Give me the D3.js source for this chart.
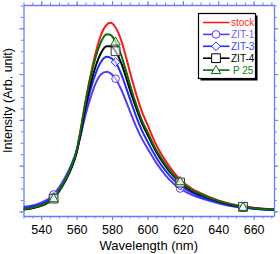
<!DOCTYPE html>
<html>
<head>
<meta charset="utf-8">
<script src="https://cdn.jsdelivr.net/npm/d3@7"></script>
<style>
  body { margin: 0; background: #fff; }
  svg { display: block; font-family: Arial, "Liberation Sans", sans-serif; }
</style>
</head>
<body>
<svg id="chart"></svg>
<script>
// data
const wavelengths = [530, 535, 540, 545, 547, 550, 554, 557, 560, 562, 565, 568, 571, 574, 577, 579, 582, 585, 588, 591, 594, 597, 600, 605, 610, 615, 618.5, 625, 630, 640, 650, 654, 660, 672];
const marker_wavelengths = [547, 582, 618.5, 654];

const stock = [0.05, 0.08, 0.13, 0.23, 0.29, 0.45, 0.72, 0.97, 1.32, 1.72, 2.40, 3.00, 3.50, 3.88, 4.08, 4.12, 4.02, 3.76, 3.36, 2.92, 2.52, 2.17, 1.90, 1.45, 1.12, 0.85, 0.70, 0.50, 0.40, 0.24, 0.14, 0.11, 0.08, 0.04];
const zit1  = [0.10, 0.13, 0.19, 0.30, 0.37, 0.52, 0.78, 1.02, 1.33, 1.62, 2.10, 2.50, 2.82, 3.00, 3.05, 3.02, 2.90, 2.68, 2.40, 2.10, 1.82, 1.58, 1.38, 1.06, 0.80, 0.60, 0.50, 0.36, 0.29, 0.18, 0.10, 0.08, 0.06, 0.03];
const zit3  = [0.08, 0.11, 0.16, 0.26, 0.31, 0.46, 0.72, 0.97, 1.30, 1.63, 2.20, 2.68, 3.04, 3.28, 3.38, 3.36, 3.26, 3.02, 2.70, 2.36, 2.04, 1.76, 1.53, 1.18, 0.90, 0.68, 0.57, 0.41, 0.32, 0.20, 0.11, 0.09, 0.06, 0.03];
const zit4  = [0.04, 0.07, 0.12, 0.22, 0.28, 0.43, 0.69, 0.94, 1.28, 1.65, 2.28, 2.80, 3.20, 3.48, 3.61, 3.61, 3.50, 3.26, 2.92, 2.55, 2.22, 1.92, 1.68, 1.30, 1.00, 0.76, 0.63, 0.45, 0.36, 0.22, 0.12, 0.10, 0.07, 0.04];
const p25   = [0.05, 0.08, 0.13, 0.23, 0.29, 0.45, 0.72, 0.98, 1.33, 1.72, 2.38, 2.95, 3.40, 3.72, 3.87, 3.86, 3.71, 3.44, 3.06, 2.66, 2.30, 1.98, 1.74, 1.34, 1.04, 0.79, 0.66, 0.47, 0.38, 0.23, 0.13, 0.10, 0.07, 0.04];

const series_names = ['stock', 'ZIT-1', 'ZIT-3', 'ZIT-4', 'P 25'];
const x_ticks = [540, 560, 580, 600, 620, 640, 660];

const series = [
    { name: series_names[0], values: stock, color: '#ff1a1a', text: '#ff2a2a', marker: null },
    { name: series_names[1], values: zit1,  color: '#5a3cf0', text: '#7b5cff', marker: 'circle' },
    { name: series_names[2], values: zit3,  color: '#1e2cff', text: '#3344ff', marker: 'diamond' },
    { name: series_names[3], values: zit4,  color: '#000000', text: '#000000', marker: 'square' },
    { name: series_names[4], values: p25,   color: '#0b6b0b', text: '#137a13', marker: 'triangle' }
];

const width = 280, height = 254;
const margin = { top: 5, right: 6, bottom: 38, left: 23.5 };
const axis_color = '#6a7cff';

const svg = d3.select('#chart').attr('width', width).attr('height', height);

const x = d3.scaleLinear().domain([530, 671.5]).range([margin.left, width - margin.right]);
const y = d3.scaleLinear().domain([-0.1, 4.51]).range([height - margin.bottom, margin.top]);

svg.append('clipPath').attr('id', 'plot-clip')
    .append('rect')
    .attr('x', x.range()[0]).attr('y', y.range()[1])
    .attr('width', x.range()[1] - x.range()[0])
    .attr('height', y.range()[0] - y.range()[1]);

// axes: all four sides, ticks outward
function style_axis(g) {
    g.selectAll('path.domain').attr('stroke', axis_color).attr('stroke-width', 1.3);
    g.selectAll('.tick line').attr('stroke', axis_color).attr('stroke-width', 1);
}

const x_minor = d3.range(530, 672, 5);
const y_minor = d3.range(-0.0, 4.51, 0.25);

const bottom = svg.append('g').attr('transform', `translate(0,${y.range()[0]})`);
bottom.call(d3.axisBottom(x).tickValues(x_minor).tickSize(2.5).tickFormat('').tickSizeOuter(0));
bottom.append('g').call(d3.axisBottom(x).tickValues(x_ticks).tickSize(4).tickSizeOuter(0).tickFormat(d3.format('d')))
    .call(g => g.select('.domain').remove())
    .selectAll('text')
    .attr('fill', '#000')
    .attr('y', 7)
    .attr('dy', '0.84em')
    .style('font-size', '12.5px');
style_axis(bottom);
bottom.selectAll('text').attr('font-family', 'Arial, "Liberation Sans", sans-serif');

const top_axis = svg.append('g').attr('transform', `translate(0,${y.range()[1]})`);
top_axis.call(d3.axisTop(x).tickValues(x_minor).tickSize(2.5).tickFormat('').tickSizeOuter(0));
top_axis.append('g').call(d3.axisTop(x).tickValues(x_ticks).tickSize(4).tickFormat('').tickSizeOuter(0))
    .call(g => g.select('.domain').remove());
style_axis(top_axis);

const left = svg.append('g').attr('transform', `translate(${x.range()[0]},0)`);
left.call(d3.axisLeft(y).tickValues(y_minor).tickSize(2.7).tickFormat('').tickSizeOuter(0));
left.append('g').call(d3.axisLeft(y).tickValues([0, 1, 2, 3, 4]).tickSize(4.3).tickFormat('').tickSizeOuter(0))
    .call(g => g.select('.domain').remove());
style_axis(left);

const right = svg.append('g').attr('transform', `translate(${x.range()[1]},0)`);
right.call(d3.axisRight(y).tickValues(y_minor).tickSize(2.7).tickFormat('').tickSizeOuter(0));
right.append('g').call(d3.axisRight(y).tickValues([0, 1, 2, 3, 4]).tickSize(4.3).tickFormat('').tickSizeOuter(0))
    .call(g => g.select('.domain').remove());
style_axis(right);

// axis titles
svg.append('text')
    .attr('x', (x.range()[0] + x.range()[1]) / 2)
    .attr('y', 249.5)
    .attr('text-anchor', 'middle')
    .style('font-size', '13px')
    .text('Wavelength (nm)');

svg.append('text')
    .attr('transform', `translate(12,${(y.range()[0] + y.range()[1]) / 2 - 10}) rotate(-90)`)
    .attr('text-anchor', 'middle')
    .style('font-size', '12.5px')
    .text('Intensity (Arb. unit)');

// curves
const line = d3.line()
    .x(d => x(d[0]))
    .y(d => y(d[1]))
    .curve(d3.curveMonotoneX);

const plot = svg.append('g').attr('clip-path', 'url(#plot-clip)');

function marker_path(type) {
    if (type === 'circle') return d3.symbol(d3.symbolCircle, 46)();
    if (type === 'diamond') return 'M0,-4.4L4.4,0L0,4.4L-4.4,0Z';
    if (type === 'square') return 'M-4.4,-4.4H4.4V4.4H-4.4Z';
    if (type === 'triangle') return 'M0,-4.7L4.7,3.5H-4.7Z';
    return null;
}

series.forEach(s => {
    const pts = wavelengths.map((w, i) => [w, s.values[i]]);
    plot.append('path')
        .datum(pts)
        .attr('fill', 'none')
        .attr('stroke', s.color)
        .attr('stroke-width', 2)
        .attr('d', line);
});

series.forEach(s => {
    if (!s.marker) return;
    const pts = marker_wavelengths.map(w => [w, s.values[wavelengths.indexOf(w)]]);
    plot.selectAll(null)
        .data(pts)
        .enter()
        .append('path')
        .attr('transform', d => `translate(${x(d[0])},${y(d[1])})`)
        .attr('d', marker_path(s.marker))
        .attr('fill', 'white')
        .attr('fill-opacity', 0.6)
        .attr('stroke', s.color === '#000000' ? '#333' : s.color)
        .attr('stroke-width', 1);
});

// legend
const lg = svg.append('g').attr('transform', 'translate(198.5,13.5)');
const lg_w = 57, lg_h = 65;
lg.append('rect').attr('x', 2).attr('y', 2).attr('width', lg_w).attr('height', lg_h).attr('fill', '#000');
lg.append('rect').attr('width', lg_w).attr('height', lg_h).attr('fill', '#fff').attr('stroke', '#000').attr('stroke-width', 1.2);

const rows = lg.selectAll('g.row')
    .data(series)
    .enter()
    .append('g')
    .attr('class', 'row')
    .attr('transform', (d, i) => `translate(0,${9 + i * 11.9})`);

rows.append('line')
    .attr('x1', 4.5).attr('x2', 31)
    .attr('stroke', d => d.color)
    .attr('stroke-width', 1.6);

rows.filter(d => d.marker)
    .append('path')
    .attr('transform', 'translate(17.5,0)')
    .attr('d', d => marker_path(d.marker))
    .attr('fill', 'white')
    .attr('stroke', d => d.color)
    .attr('stroke-width', 1);

rows.append('text')
    .attr('x', d => d.name === 'P 25' ? 34.5 : 32.5)
    .attr('dy', '0.35em')
    .attr('fill', d => d.text)
    .style('font-size', '10px')
    .text(d => d.name);
</script>
</body>
</html>
